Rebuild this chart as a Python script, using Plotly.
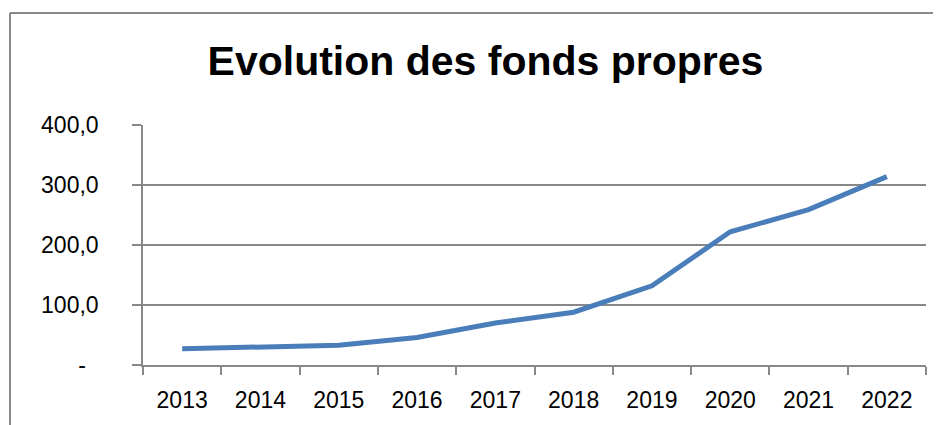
import plotly.graph_objects as go

years = ["2013", "2014", "2015", "2016", "2017", "2018", "2019", "2020", "2021", "2022"]
fonds_propres = [27, 31, 33, 46, 70, 88, 132, 222, 259, 314]
y_tick_vals = [0, 100, 200, 300, 400]
y_tick_text = ["-\u00a0\u00a0", "100,0", "200,0", "300,0", "400,0"]

# the page adds an 8px body margin; compensate
OFF = 8
W, H = 941, 425
L, R, T, B = 143 - OFF, 15 + OFF, 125 - OFF, 60 + OFF
pw = W - L - R
ph = H - T - B

fig = go.Figure()
fig.add_trace(go.Scatter(
    x=years, y=fonds_propres, mode="lines",
    line=dict(color="#4A7EBB", width=5),
    hoverinfo="x+y",
))

font = "Liberation Sans, Arial, sans-serif"
border_x = 10 - OFF
border_y = 13 - OFF
fig.update_layout(
    width=W, height=H,
    margin=dict(l=L, r=R, t=T, b=B, autoexpand=False),
    paper_bgcolor="white", plot_bgcolor="white",
    showlegend=False,
    title=dict(text="<b>Evolution des fonds propres</b>", x=(485.5 - OFF) / W, xanchor="center",
               y=1 - 53 / H, yanchor="middle",
               font=dict(family=font, size=41, color="black")),
    xaxis=dict(
        type="category", range=[-0.5, 9.5], tickson="boundaries",
        ticks="outside", ticklen=8, tickwidth=1.5, tickcolor="#888888",
        showline=True, linecolor="#888888", linewidth=1.5,
        showgrid=False, zeroline=False, automargin=False,
        tickfont=dict(family=font, size=23, color="black"),
        ticklabelstandoff=14,
    ),
    yaxis=dict(
        range=[0, 400], tickvals=y_tick_vals, ticktext=y_tick_text,
        ticks="outside", ticklen=9, tickwidth=1.5, tickcolor="#888888",
        showline=True, linecolor="#888888", linewidth=1.5,
        showgrid=True, gridcolor="#888888", gridwidth=1.5, zeroline=False,
        automargin=False,
        tickfont=dict(family=font, size=23, color="black"),
        ticklabelstandoff=29,
    ),
    shapes=[
        dict(type="line", xref="paper", yref="paper",
             x0=(border_x - L) / pw, x1=(W + 5 - L) / pw,
             y0=(H - B - border_y) / ph, y1=(H - B - border_y) / ph,
             line=dict(color="#888888", width=2)),
        dict(type="line", xref="paper", yref="paper",
             x0=(border_x - L) / pw, x1=(border_x - L) / pw,
             y0=(H - B - border_y) / ph, y1=(H - B - H - 10) / ph,
             line=dict(color="#888888", width=2)),
    ],
)

fig.write_html("out.html")
